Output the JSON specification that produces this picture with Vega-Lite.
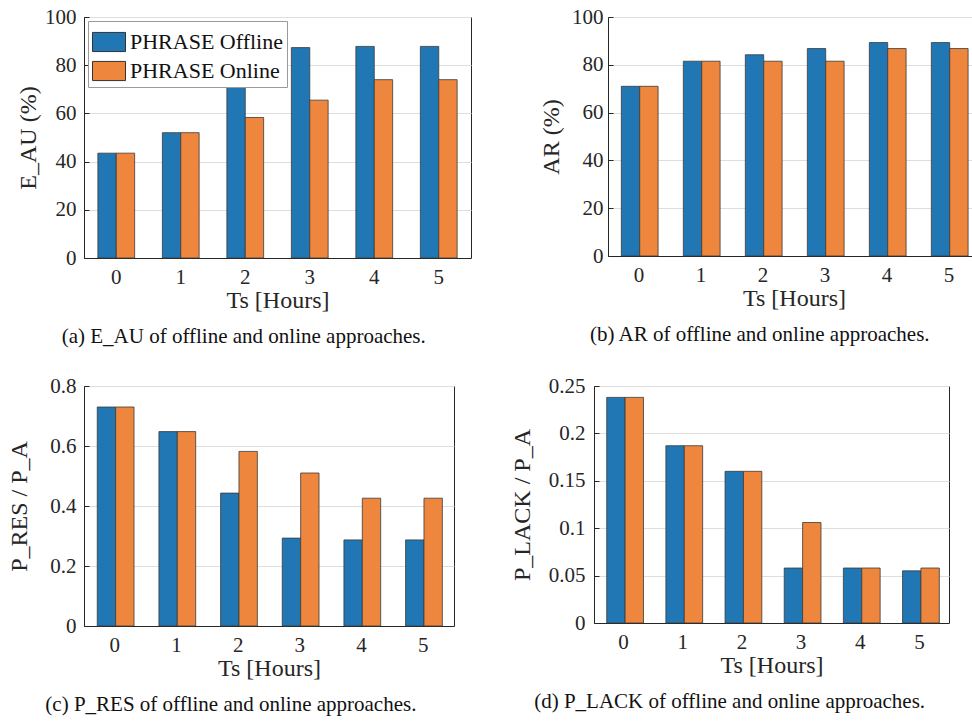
{
  "$schema": "https://vega.github.io/schema/vega-lite/v6.json",
  "padding": {"left": 7, "top": 5, "right": 0, "bottom": 0},
  "background": "white",
  "config": {
    "font": "Liberation Serif",
    "view": {"stroke": "#262626", "strokeWidth": 1},
    "axis": {
      "domainColor": "#262626",
      "tickColor": "#262626",
      "tickSize": -5,
      "labelPadding": 13,
      "labelFontSize": 21,
      "labelColor": "#262626",
      "labelFont": "Liberation Serif",
      "titleFont": "Liberation Serif",
      "titleFontSize": 24,
      "titleFontWeight": "normal",
      "titleColor": "#262626",
      "gridColor": "#dedede",
      "gridWidth": 1
    },
    "title": {"font": "Liberation Serif", "fontSize": 21, "fontWeight": "normal", "color": "#111", "frame": "bounds"}
  },
  "datasets": {
    "ea": [
      {"ts": "0", "approach": "PHRASE Offline", "value": 43.5},
      {"ts": "1", "approach": "PHRASE Offline", "value": 52},
      {"ts": "2", "approach": "PHRASE Offline", "value": 72.3},
      {"ts": "3", "approach": "PHRASE Offline", "value": 87.3},
      {"ts": "4", "approach": "PHRASE Offline", "value": 87.8},
      {"ts": "5", "approach": "PHRASE Offline", "value": 87.8},
      {"ts": "0", "approach": "PHRASE Online", "value": 43.5},
      {"ts": "1", "approach": "PHRASE Online", "value": 52},
      {"ts": "2", "approach": "PHRASE Online", "value": 58.3},
      {"ts": "3", "approach": "PHRASE Online", "value": 65.5},
      {"ts": "4", "approach": "PHRASE Online", "value": 74},
      {"ts": "5", "approach": "PHRASE Online", "value": 74}
    ],
    "ar": [
      {"ts": "0", "approach": "PHRASE Offline", "value": 71},
      {"ts": "1", "approach": "PHRASE Offline", "value": 81.5},
      {"ts": "2", "approach": "PHRASE Offline", "value": 84.2},
      {"ts": "3", "approach": "PHRASE Offline", "value": 86.8},
      {"ts": "4", "approach": "PHRASE Offline", "value": 89.3},
      {"ts": "5", "approach": "PHRASE Offline", "value": 89.3},
      {"ts": "0", "approach": "PHRASE Online", "value": 71},
      {"ts": "1", "approach": "PHRASE Online", "value": 81.5},
      {"ts": "2", "approach": "PHRASE Online", "value": 81.5},
      {"ts": "3", "approach": "PHRASE Online", "value": 81.5},
      {"ts": "4", "approach": "PHRASE Online", "value": 86.8},
      {"ts": "5", "approach": "PHRASE Online", "value": 86.8}
    ],
    "pres": [
      {"ts": "0", "approach": "PHRASE Offline", "value": 0.73},
      {"ts": "1", "approach": "PHRASE Offline", "value": 0.648},
      {"ts": "2", "approach": "PHRASE Offline", "value": 0.443},
      {"ts": "3", "approach": "PHRASE Offline", "value": 0.293},
      {"ts": "4", "approach": "PHRASE Offline", "value": 0.287},
      {"ts": "5", "approach": "PHRASE Offline", "value": 0.287},
      {"ts": "0", "approach": "PHRASE Online", "value": 0.73},
      {"ts": "1", "approach": "PHRASE Online", "value": 0.648},
      {"ts": "2", "approach": "PHRASE Online", "value": 0.582},
      {"ts": "3", "approach": "PHRASE Online", "value": 0.51},
      {"ts": "4", "approach": "PHRASE Online", "value": 0.426},
      {"ts": "5", "approach": "PHRASE Online", "value": 0.426}
    ],
    "plack": [
      {"ts": "0", "approach": "PHRASE Offline", "value": 0.238},
      {"ts": "1", "approach": "PHRASE Offline", "value": 0.187},
      {"ts": "2", "approach": "PHRASE Offline", "value": 0.16},
      {"ts": "3", "approach": "PHRASE Offline", "value": 0.058},
      {"ts": "4", "approach": "PHRASE Offline", "value": 0.058},
      {"ts": "5", "approach": "PHRASE Offline", "value": 0.055},
      {"ts": "0", "approach": "PHRASE Online", "value": 0.238},
      {"ts": "1", "approach": "PHRASE Online", "value": 0.187},
      {"ts": "2", "approach": "PHRASE Online", "value": 0.16},
      {"ts": "3", "approach": "PHRASE Online", "value": 0.106},
      {"ts": "4", "approach": "PHRASE Online", "value": 0.058},
      {"ts": "5", "approach": "PHRASE Online", "value": 0.058}
    ]
  },
  "resolve": {"scale": {"color": "independent"}, "legend": {"color": "independent"}},
  "spacing": 26,
  "vconcat": [
    {
      "spacing": 67,
      "resolve": {"scale": {"color": "independent"}, "legend": {"color": "independent"}},
      "hconcat": [
        {
          "width": 387, "height": 241,
          "data": {"name": "ea"},
          "title": {"text": "(a) E_AU of offline and online approaches.", "orient": "bottom", "anchor": "middle", "offset": 14},
          "mark": {"type": "bar", "stroke": "#3a3a3a", "strokeWidth": 0.8},
          "encoding": {
            "x": {"field": "ts", "type": "ordinal", "scale": {"paddingInner": 0.43, "paddingOuter": 0.215}, "axis": {"title": "Ts [Hours]", "labelAngle": 0, "bandPosition": 0.5, "titlePadding": 1}},
            "xOffset": {"field": "approach", "sort": ["PHRASE Offline", "PHRASE Online"]},
            "y": {"field": "value", "type": "quantitative", "scale": {"domain": [0, 100]}, "axis": {"title": "E_AU (%)", "values": [0, 20, 40, 60, 80, 100], "format": ".2~f", "titlePadding": 4}},
            "color": {"field": "approach", "type": "nominal", "scale": {"domain": ["PHRASE Offline", "PHRASE Online"], "range": ["#2077b4", "#ee873d"]},
              "legend": {"title": null, "orient": "top-left", "offset": 4, "padding": 4, "strokeColor": "#9a9a9a", "fillColor": "white", "labelFontSize": 22, "labelFont": "Liberation Serif", "labelColor": "#111", "symbolType": "M-1,-0.58H1V0.58H-1Z", "symbolSize": 1089, "symbolStrokeColor": "#333", "symbolStrokeWidth": 1, "symbolOpacity": 1, "rowPadding": -10, "labelOffset": 4}}
          }
        },
        {
          "width": 372, "height": 239,
          "data": {"name": "ar"},
          "title": {"text": "(b) AR of offline and online approaches.", "orient": "bottom", "anchor": "middle", "offset": 14},
          "mark": {"type": "bar", "stroke": "#3a3a3a", "strokeWidth": 0.8},
          "encoding": {
            "x": {"field": "ts", "type": "ordinal", "scale": {"paddingInner": 0.43, "paddingOuter": 0.215}, "axis": {"title": "Ts [Hours]", "labelAngle": 0, "bandPosition": 0.5, "titlePadding": 1}},
            "xOffset": {"field": "approach", "sort": ["PHRASE Offline", "PHRASE Online"]},
            "y": {"field": "value", "type": "quantitative", "scale": {"domain": [0, 100]}, "axis": {"title": "AR (%)", "values": [0, 20, 40, 60, 80, 100], "format": ".2~f", "titlePadding": 8, "labelPadding": 10}},
            "color": {"field": "approach", "type": "nominal", "scale": {"domain": ["PHRASE Offline", "PHRASE Online"], "range": ["#2077b4", "#ee873d"]}, "legend": null}
          }
        }
      ]
    },
    {
      "spacing": 54,
      "resolve": {"scale": {"color": "independent"}, "legend": {"color": "independent"}},
      "hconcat": [
        {
          "width": 370, "height": 240,
          "data": {"name": "pres"},
          "title": {"text": "(c) P_RES of offline and online approaches.", "orient": "bottom", "anchor": "middle", "offset": 14},
          "mark": {"type": "bar", "stroke": "#3a3a3a", "strokeWidth": 0.8},
          "encoding": {
            "x": {"field": "ts", "type": "ordinal", "scale": {"paddingInner": 0.43, "paddingOuter": 0.215}, "axis": {"title": "Ts [Hours]", "labelAngle": 0, "bandPosition": 0.5, "titlePadding": 1}},
            "xOffset": {"field": "approach", "sort": ["PHRASE Offline", "PHRASE Online"]},
            "y": {"field": "value", "type": "quantitative", "scale": {"domain": [0, 0.8]}, "axis": {"title": "P_RES / P_A", "values": [0, 0.2, 0.4, 0.6, 0.8], "format": ".2~f", "titlePadding": 18}},
            "color": {"field": "approach", "type": "nominal", "scale": {"domain": ["PHRASE Offline", "PHRASE Online"], "range": ["#2077b4", "#ee873d"]}, "legend": null}
          }
        },
        {
          "width": 355, "height": 237,
          "data": {"name": "plack"},
          "title": {"text": "(d) P_LACK of offline and online approaches.", "orient": "bottom", "anchor": "middle", "offset": 14},
          "mark": {"type": "bar", "stroke": "#3a3a3a", "strokeWidth": 0.8},
          "encoding": {
            "x": {"field": "ts", "type": "ordinal", "scale": {"paddingInner": 0.43, "paddingOuter": 0.215}, "axis": {"title": "Ts [Hours]", "labelAngle": 0, "bandPosition": 0.5, "titlePadding": 1}},
            "xOffset": {"field": "approach", "sort": ["PHRASE Offline", "PHRASE Online"]},
            "y": {"field": "value", "type": "quantitative", "scale": {"domain": [0, 0.25]}, "axis": {"title": "P_LACK / P_A", "values": [0, 0.05, 0.1, 0.15, 0.2, 0.25], "format": ".2~f", "titlePadding": 14, "labelPadding": 14}},
            "color": {"field": "approach", "type": "nominal", "scale": {"domain": ["PHRASE Offline", "PHRASE Online"], "range": ["#2077b4", "#ee873d"]}, "legend": null}
          }
        }
      ]
    }
  ]
}
